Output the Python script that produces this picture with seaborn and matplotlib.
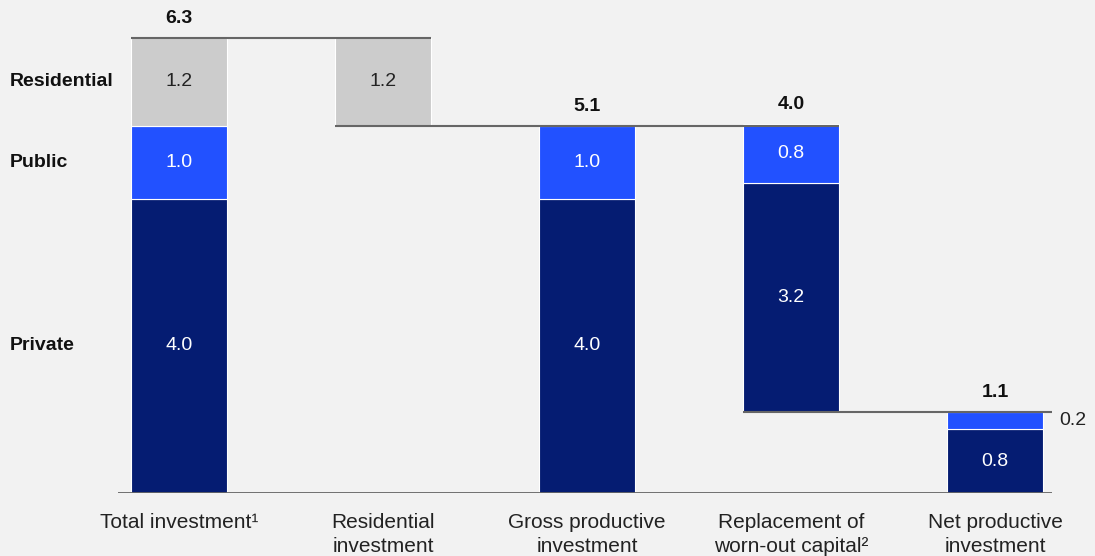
import matplotlib
matplotlib.use("Agg")
import matplotlib.pyplot as plt
import matplotlib.transforms as mtransforms
import seaborn as sns
import pandas as pd
import numpy as np

# ---- data ----
categories = ["Total investment\u00b9", "Residential\ninvestment", "Gross productive\ninvestment",
              "Replacement of\nworn-out capital\u00b2", "Net productive\ninvestment"]
private = [4.05, 0.0, 4.05, 3.15, 0.88]
public = [1.0, 0.0, 1.0, 0.81, 0.23]
residential = [1.21, 1.21, 0.0, 0.0, 0.0]
private_labels = ["4.0", "", "4.0", "3.2", "0.8"]
public_labels = ["1.0", "", "1.0", "0.8", ""]
residential_labels = ["1.2", "1.2", "", "", ""]
total_labels = ["6.3", "", "5.1", "4.0", "1.1"]
side_label_net_public = "0.2"
row_labels = ["Residential", "Public", "Private"]

BG = "#f2f2f2"
NAVY = "#051c72"
BLUE = "#2251ff"
GRAY = "#cccccc"
LINE = "#666666"

sns.set_theme(style="white")
plt.rcParams["font.family"] = ["Liberation Sans", "DejaVu Sans"]

# waterfall bases
totals = [p + q + r for p, q, r in zip(private, public, residential)]
base = [0.0] * 5
base[1] = totals[2]            # residential floats on gross productive
base[3] = totals[4]            # replacement floats on net productive

fig = plt.figure(figsize=(10.95, 5.56), dpi=100, facecolor=BG)
ax = fig.add_axes([118 / 1095, 63 / 556, (1052 - 118) / 1095, 455 / 556])
ax.set_facecolor(BG)

df = pd.DataFrame({"cat": categories, "private": private, "public": public,
                   "residential": residential, "base": base})
W = 0.47
b_priv = np.array(base)
b_pub = b_priv + np.array(private)
b_res = b_pub + np.array(public)
sns.barplot(data=df, x="cat", y="private", bottom=b_priv, color=NAVY, width=W,
            edgecolor="white", linewidth=0.8, ax=ax, saturation=1)
sns.barplot(data=df, x="cat", y="public", bottom=b_pub, color=BLUE, width=W,
            edgecolor="white", linewidth=0.8, ax=ax, saturation=1)
sns.barplot(data=df, x="cat", y="residential", bottom=b_res, color=GRAY, width=W,
            edgecolor="white", linewidth=0.8, ax=ax, saturation=1)

# hide zero-height bars' edges
for p in ax.patches:
    if p.get_height() == 0:
        p.set_visible(False)

ax.set_xlim(-0.299, 4.279)
ax.set_ylim(0, totals[0])
for s in ax.spines.values():
    s.set_visible(False)
ax.set_xlabel("")
ax.set_ylabel("")
ax.set_yticks([])
ax.tick_params(axis="x", length=0, pad=14.5, labelsize=15, labelcolor="#222222")
ax.set_xticks(range(5))
ax.set_xticklabels(categories, linespacing=1.32)
for t in ax.get_xticklabels():
    t.set_verticalalignment("top")

# baseline and connectors
ax.axhline(0, color=LINE, lw=1.3, zorder=3)
top = [b + t for b, t in zip(base, totals)]
ax.hlines(top[0], 0 - W / 2, 1 + W / 2, color=LINE, lw=1.5, zorder=3, clip_on=False)
ax.hlines(top[2], 1 - W / 2, 3 + W / 2, color=LINE, lw=1.5, zorder=3)
ax.hlines(base[3], 3 - W / 2, 4.279, color=LINE, lw=1.5, zorder=3)

# segment labels
fs = 14
for i in range(5):
    if private_labels[i]:
        ax.text(i, b_priv[i] + private[i] / 2, private_labels[i], ha="center", va="center",
                color="white", fontsize=fs)
    if public_labels[i]:
        ax.text(i, b_pub[i] + public[i] / 2, public_labels[i], ha="center", va="center",
                color="white", fontsize=fs)
    if residential_labels[i]:
        ax.text(i, b_res[i] + residential[i] / 2, residential_labels[i], ha="center",
                va="center", color="#222222", fontsize=fs)
    if total_labels[i]:
        ax.annotate(total_labels[i], (i, top[i]), xytext=(0, 8), textcoords="offset points",
                    ha="center", va="bottom", fontsize=fs, fontweight="bold", color="#111111",
                    annotation_clip=False)

ax.annotate(side_label_net_public, (4 + W / 2, b_pub[4] + public[4] / 2), xytext=(12, 0),
            textcoords="offset points", ha="left", va="center", fontsize=fs, color="#222222",
            annotation_clip=False)

# row labels on the left
trans = mtransforms.blended_transform_factory(fig.transFigure, ax.transData)
row_y = [b_res[0] + residential[0] / 2, b_pub[0] + public[0] / 2, b_priv[0] + private[0] / 2]
for lab, y in zip(row_labels, row_y):
    ax.text(10 / 1095, y, lab, transform=trans, ha="left", va="center", fontsize=fs,
            fontweight="bold", color="#111111")

fig.savefig("out.png", dpi=100, facecolor=BG)
